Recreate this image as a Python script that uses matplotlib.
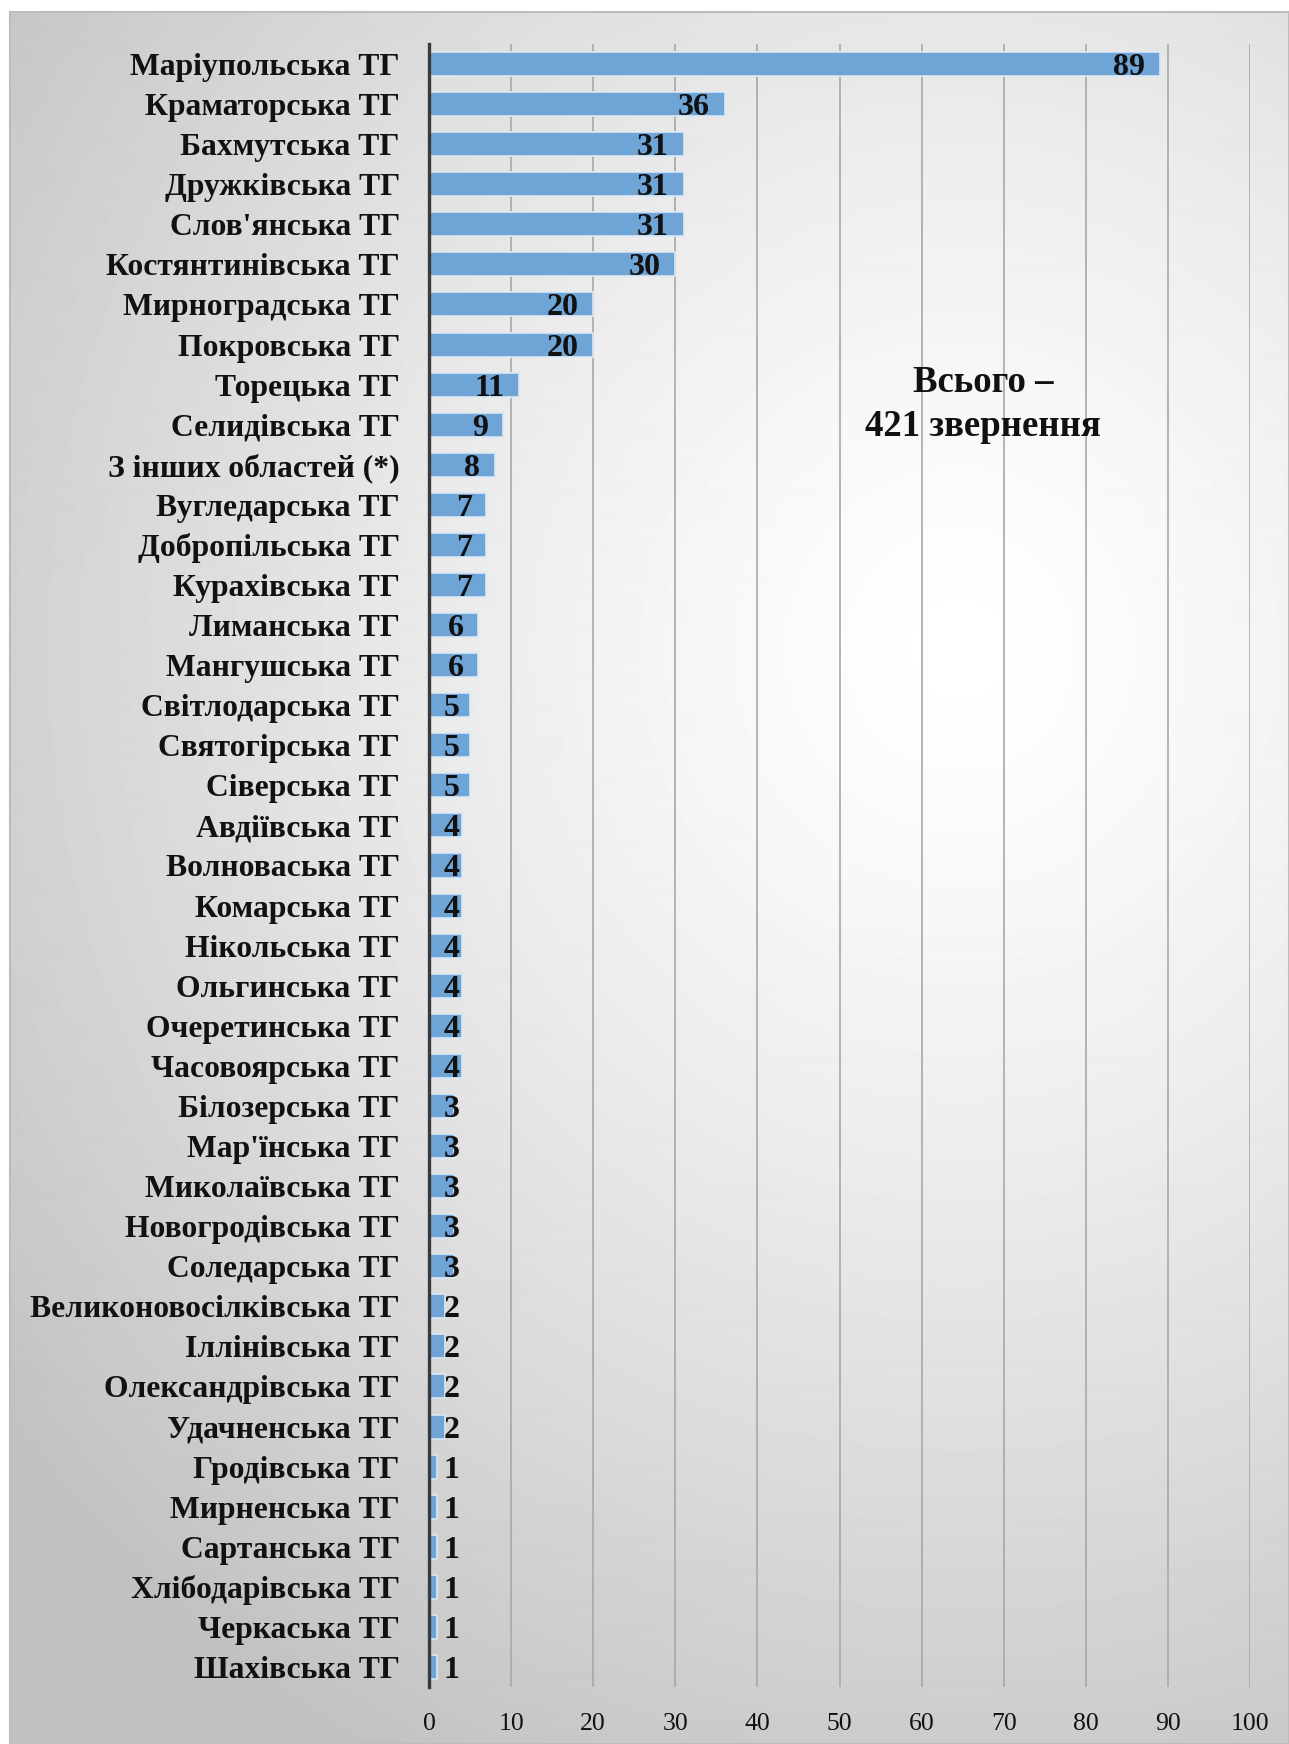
import matplotlib
matplotlib.use("Agg")
import matplotlib.pyplot as plt
import numpy as np

# ---- data ----
categories = [
    "Маріупольська ТГ", "Краматорська ТГ", "Бахмутська ТГ", "Дружківська ТГ",
    "Слов'янська ТГ", "Костянтинівська ТГ", "Мирноградська ТГ", "Покровська ТГ",
    "Торецька ТГ", "Селидівська ТГ", "З інших областей (*)", "Вугледарська ТГ",
    "Добропільська ТГ", "Курахівська ТГ", "Лиманська ТГ", "Мангушська ТГ",
    "Світлодарська ТГ", "Святогірська ТГ", "Сіверська ТГ", "Авдіївська ТГ",
    "Волноваська ТГ", "Комарська ТГ", "Нікольська ТГ", "Ольгинська ТГ",
    "Очеретинська ТГ", "Часовоярська ТГ", "Білозерська ТГ", "Мар'їнська ТГ",
    "Миколаївська ТГ", "Новогродівська ТГ", "Соледарська ТГ",
    "Великоновосілківська ТГ", "Іллінівська ТГ", "Олександрівська ТГ",
    "Удачненська ТГ", "Гродівська ТГ", "Мирненська ТГ", "Сартанська ТГ",
    "Хлібодарівська ТГ", "Черкаська ТГ", "Шахівська ТГ",
]
values = [89, 36, 31, 31, 31, 30, 20, 20, 11, 9, 8, 7, 7, 7, 6, 6, 5, 5, 5,
          4, 4, 4, 4, 4, 4, 4, 3, 3, 3, 3, 3, 2, 2, 2, 2, 1, 1, 1, 1, 1, 1]
x_ticks = list(range(0, 101, 10))
total_text = "Всього –\n421 звернення"

W, H = 1289, 1744
fig = plt.figure(figsize=(W / 100, H / 100), dpi=100)
fig.patch.set_facecolor("white")

# ---- radial gradient background ----
bg = fig.add_axes([10 / W, 0, (W - 10) / W, (H - 12) / H])
yy, xx = np.mgrid[12:H, 10:W]
d = np.hypot(xx - 960, (yy - 650) * 0.95)
t = np.clip(d / 1200, 0, 1)
g = 1.0 - 0.24 * t ** 1.3
bg.imshow(g, cmap="gray", vmin=0, vmax=1, aspect="auto",
          extent=(10, W, H, 12), interpolation="bilinear")
bg.set_xticks([])
bg.set_yticks([])
for s in bg.spines.values():
    s.set_color("#bdbdbd")
    s.set_linewidth(1.5)
bg.set_zorder(0)

# ---- main chart ----
ax = fig.add_axes([429 / W, (H - 1687) / H, (1250 - 429) / W, (1687 - 44) / H])
ax.set_facecolor("none")
ax.set_zorder(1)

ypos = np.arange(len(categories))
ax.barh(ypos, values, height=0.6, color="#6fa4d7", edgecolor="#dbe8f4",
        linewidth=1.2, zorder=3)

ax.set_xlim(0, 100)
ax.set_ylim(len(categories) - 0.5, -0.5)
ax.set_xticks(x_ticks)
ax.set_xticklabels([str(v) for v in x_ticks], fontfamily="Liberation Serif",
                   fontsize=18.5, color="#111111")
ax.set_yticks(ypos)
ax.set_yticklabels(categories, fontfamily="Liberation Serif",
                   fontweight="bold", fontsize=22.8, color="#111111",
                   va="center_baseline")
ax.tick_params(axis="x", length=0, pad=19)
ax.tick_params(axis="y", length=0, pad=21)

ax.grid(axis="x", color="#a8a8a8", linewidth=1.2, zorder=1)
for side in ["top", "right", "bottom"]:
    ax.spines[side].set_visible(False)
ax.spines["left"].set_color("#3a3a3a")
ax.spines["left"].set_linewidth(2.4)
ax.spines["left"].set_zorder(4)

# data labels, inside end (pushed right for tiny bars)
for i, v in enumerate(values):
    ax.text(max(v - 1.8, 3.7), i, str(v), ha="right", va="center_baseline",
            fontfamily="Liberation Serif", fontweight="bold", fontsize=23,
            color="#111111", zorder=5)

ax.text(67.5, 8.5, total_text, ha="center", va="center",
        fontfamily="Liberation Serif", fontweight="bold", fontsize=26.5,
        linespacing=1.35, color="#111111", zorder=5)

fig.savefig("out.png", dpi=100)
